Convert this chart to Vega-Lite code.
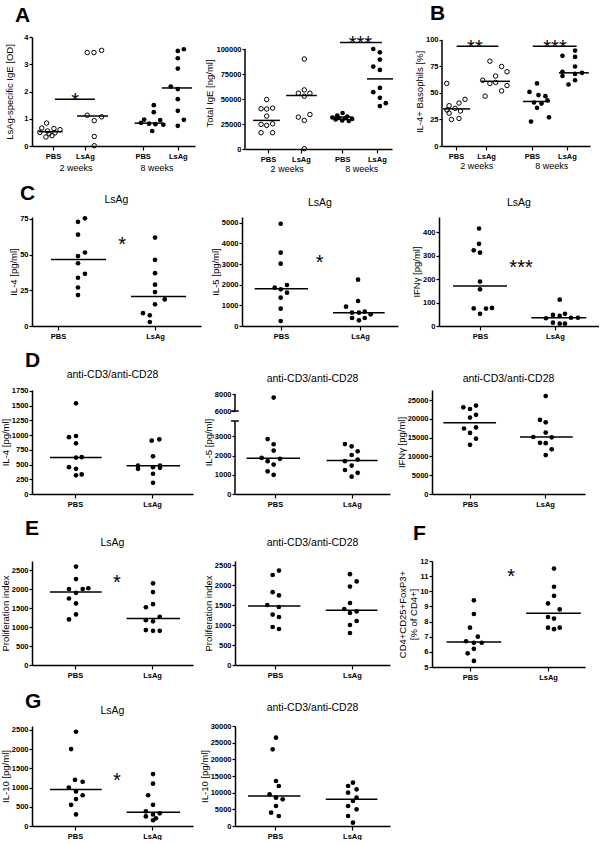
{
"$schema":"https://vega.github.io/schema/vega-lite/v6.json",
"padding":{"left":0,"top":2,"right":0,"bottom":0},
"columns":1,
"align":"none",
"spacing":9,
"config":{
 "font":"Liberation Sans",
 "numberFormat":"d",
 "view":{"stroke":null},
 "axis":{"grid":false,"domainColor":"#000","domainWidth":1.5,"tickColor":"#000","tickWidth":1.2,"tickSize":3,"labelColor":"#000","labelFontSize":7.5,"labelFontWeight":"bold","labelPadding":1,"labelFlush":false,"labelOverlap":false,"titleColor":"#000","titleFontSize":9.5,"titleFontWeight":"normal","titlePadding":1},
 "axisY":{"minExtent":0},
 "axisX":{"labelAngle":0,"tickSize":4,"labelPadding":2},
 "title":{"color":"#000","fontWeight":"normal","fontSize":10.5,"baseline":"alphabetic","frame":"group"},
 "text":{"color":"#000"}
},
"concat":[
{"hconcat":[
 {"width":163,"height":109,
  "title":{"text":"A","anchor":"start","fontSize":21,"fontWeight":"bold","offset":7,"dx":-17},
  "encoding":{
   "x":{"field":"x","type":"quantitative","scale":{"domain":[0.344,5.4375],"nice":false,"zero":false},"axis":{"values":[1,2,3.8,4.9],"labelExpr":"datum.value < 1.5 || (datum.value > 3 && datum.value < 4.3) ? 'PBS' : 'LsAg'","title":null}},
   "y":{"field":"v","type":"quantitative","scale":{"domain":[0,4],"nice":false},"axis":{"values":[0,1,2,3,4],"title":"LsAg-specific IgE [OD]","titlePadding":9}}},
  "layer":[
   {"data":{"values":[{"x":0.80,"v":0.84},{"x":0.65,"v":0.66},{"x":1.03,"v":0.64},{"x":1.22,"v":0.60},{"x":0.83,"v":0.55},{"x":0.59,"v":0.50},{"x":1.06,"v":0.48},{"x":0.875,"v":0.45},{"x":0.97,"v":0.38},{"x":0.78,"v":0.33},{"x":2.07,"v":3.43},{"x":2.28,"v":3.43},{"x":2.52,"v":3.51},{"x":2.07,"v":1.13},{"x":2.29,"v":0.93},{"x":2.52,"v":1.07},{"x":2.29,"v":0.35},{"x":2.29,"v":0.01}]},
    "mark":{"type":"point","shape":"circle","filled":false,"color":"#000","opacity":1,"size":20,"strokeWidth":1}},
   {"data":{"values":[{"x":4.15,"v":1.5},{"x":4.15,"v":1.24},{"x":3.85,"v":0.97},{"x":4.35,"v":0.95},{"x":3.75,"v":0.85},{"x":4.0,"v":0.82},{"x":4.2,"v":0.8},{"x":4.45,"v":0.78},{"x":4.1,"v":0.55},{"x":4.9,"v":3.49},{"x":5.09,"v":3.55},{"x":4.9,"v":3.22},{"x":4.9,"v":2.84},{"x":4.68,"v":2.18},{"x":4.9,"v":2.09},{"x":4.9,"v":1.72},{"x":4.9,"v":1.29},{"x":5.09,"v":0.96},{"x":4.9,"v":0.74}]},
    "mark":{"type":"point","shape":"circle","filled":true,"color":"#000","opacity":1,"size":22}},
   {"data":{"values":[{"x":0.55,"x2":1.3,"v":0.525},{"x":1.75,"x2":2.72,"v":1.1},{"x":3.55,"x2":4.45,"v":0.84},{"x":4.4,"x2":5.34,"v":2.13},{"x":1.06,"x2":2.31,"v":1.72}]},
    "mark":{"type":"rule","color":"#000","strokeWidth":1.5},"encoding":{"x2":{"field":"x2"}}},
   {"data":{"values":[{"x":1.69,"v":1.72,"t":"*"}]},
    "mark":{"type":"text","fontSize":20,"baseline":"alphabetic","dy":8},"encoding":{"text":{"field":"t"}}},
   {"data":{"values":[{"x":1.72,"v":0,"t":"2 weeks"},{"x":4.25,"v":0,"t":"8 weeks"}]},
    "mark":{"type":"text","fontSize":9,"baseline":"middle","dy":22},"encoding":{"text":{"field":"t"}}}
  ]},
 {"width":147,"height":112,
  "encoding":{
   "x":{"field":"x","type":"quantitative","scale":{"domain":[0.303,4.758],"nice":false,"zero":false},"axis":{"values":[1,2,3.25,4.3],"labelExpr":"datum.value < 1.5 || (datum.value > 3 && datum.value < 3.8) ? 'PBS' : 'LsAg'","title":null}},
   "y":{"field":"v","type":"quantitative","scale":{"domain":[0,112000],"nice":false},"axis":{"values":[0,25000,50000,75000,100000],"domain":false,"title":"Total IgE [ng/ml]"}}},
  "layer":[
   {"data":{"values":[{"x":0.303,"v":0,"v2":100000}]},
    "mark":{"type":"rule","color":"#000","strokeWidth":1.5},"encoding":{"y2":{"field":"v2"}}},
   {"data":{"values":[{"x":0.96,"v":49500},{"x":0.79,"v":40200},{"x":0.96,"v":40000},{"x":1.14,"v":40900},{"x":0.96,"v":32900},{"x":0.79,"v":24600},{"x":0.96,"v":23600},{"x":1.14,"v":25200},{"x":0.79,"v":16300},{"x":1.14,"v":16300},{"x":2.1,"v":90000},{"x":2.1,"v":59100},{"x":1.92,"v":55800},{"x":2.27,"v":55800},{"x":2.1,"v":52800},{"x":1.92,"v":31900},{"x":2.27,"v":34500},{"x":2.1,"v":28600},{"x":2.1,"v":300}]},
    "mark":{"type":"point","shape":"circle","filled":false,"color":"#000","opacity":1,"size":20,"strokeWidth":1}},
   {"data":{"values":[{"x":3.26,"v":36000},{"x":3.1,"v":33500},{"x":3.4,"v":32500},{"x":2.95,"v":31500},{"x":3.15,"v":31000},{"x":3.35,"v":30800},{"x":3.55,"v":30000},{"x":3.05,"v":29500},{"x":3.25,"v":28500},{"x":3.45,"v":28000},{"x":4.19,"v":100000},{"x":4.39,"v":96700},{"x":4.39,"v":89400},{"x":4.19,"v":82400},{"x":4.39,"v":79100},{"x":4.39,"v":61100},{"x":4.19,"v":56800},{"x":4.39,"v":51200},{"x":4.39,"v":42900},{"x":4.57,"v":45800}]},
    "mark":{"type":"point","shape":"circle","filled":true,"color":"#000","opacity":1,"size":22}},
   {"data":{"values":[{"x":0.55,"x2":1.36,"v":28600},{"x":1.55,"x2":2.48,"v":53500},{"x":2.93,"x2":3.58,"v":31900},{"x":4.0,"x2":4.79,"v":70100},{"x":3.18,"x2":4.45,"v":106600}]},
    "mark":{"type":"rule","color":"#000","strokeWidth":1.5},"encoding":{"x2":{"field":"x2"}}},
   {"data":{"values":[{"x":3.8,"v":106600,"t":"***"}]},
    "mark":{"type":"text","fontSize":20,"baseline":"alphabetic","dy":8},"encoding":{"text":{"field":"t"}}},
   {"data":{"values":[{"x":1.58,"v":0,"t":"2 weeks"},{"x":3.84,"v":0,"t":"8 weeks"}]},
    "mark":{"type":"text","fontSize":9,"baseline":"middle","dy":20},"encoding":{"text":{"field":"t"}}}
  ]},
 {"width":148,"height":109,
  "title":{"text":"B","anchor":"start","fontSize":21,"fontWeight":"bold","offset":12,"dx":-12},
  "encoding":{
   "x":{"field":"x","type":"quantitative","scale":{"domain":[0.533,5.467],"nice":false,"zero":false},"axis":{"values":[1,2,3.53,4.7],"labelExpr":"datum.value < 1.5 || (datum.value > 3 && datum.value < 4.2) ? 'PBS' : 'LsAg'","title":null}},
   "y":{"field":"v","type":"quantitative","scale":{"domain":[0,102.8],"nice":false},"axis":{"values":[0,25,50,75,100],"domain":false,"title":"IL-4+ Basophils [%]"}}},
  "layer":[
   {"data":{"values":[{"x":0.533,"v":0,"v2":100}]},
    "mark":{"type":"rule","color":"#000","strokeWidth":1.5},"encoding":{"y2":{"field":"v2"}}},
   {"data":{"values":[{"x":0.69,"v":59},{"x":1.3,"v":44},{"x":1.1,"v":40.5},{"x":0.77,"v":38},{"x":0.97,"v":35.5},{"x":0.7,"v":34},{"x":1.15,"v":33},{"x":0.77,"v":31},{"x":1.1,"v":26},{"x":0.85,"v":25},{"x":2.13,"v":80},{"x":2.52,"v":75},{"x":2.7,"v":70},{"x":2.32,"v":66},{"x":1.89,"v":62},{"x":2.32,"v":60},{"x":2.13,"v":59},{"x":2.7,"v":57},{"x":2.52,"v":52},{"x":1.97,"v":47}]},
    "mark":{"type":"point","shape":"circle","filled":false,"color":"#000","opacity":1,"size":20,"strokeWidth":1}},
   {"data":{"values":[{"x":3.7,"v":59},{"x":3.45,"v":51},{"x":3.75,"v":48},{"x":3.98,"v":47},{"x":4.05,"v":43},{"x":3.6,"v":41},{"x":3.85,"v":40},{"x":3.7,"v":36},{"x":4.1,"v":27},{"x":3.5,"v":23},{"x":4.97,"v":90},{"x":4.55,"v":85},{"x":4.97,"v":84},{"x":4.97,"v":75},{"x":4.55,"v":70},{"x":5.2,"v":69},{"x":4.97,"v":68},{"x":4.55,"v":66},{"x":4.97,"v":62},{"x":4.75,"v":58}]},
    "mark":{"type":"point","shape":"circle","filled":true,"color":"#000","opacity":1,"size":22}},
   {"data":{"values":[{"x":0.57,"x2":1.47,"v":35},{"x":1.83,"x2":2.8,"v":61},{"x":3.23,"x2":4.13,"v":42},{"x":4.43,"x2":5.43,"v":69},{"x":1.02,"x2":2.41,"v":94},{"x":3.56,"x2":5.02,"v":94}]},
    "mark":{"type":"rule","color":"#000","strokeWidth":1.5},"encoding":{"x2":{"field":"x2"}}},
   {"data":{"values":[{"x":1.63,"v":94,"t":"**"},{"x":4.3,"v":94,"t":"***"}]},
    "mark":{"type":"text","fontSize":20,"baseline":"alphabetic","dy":8},"encoding":{"text":{"field":"t"}}},
   {"data":{"values":[{"x":1.69,"v":0,"t":"2 weeks"},{"x":4.19,"v":0,"t":"8 weeks"}]},
    "mark":{"type":"text","fontSize":9,"baseline":"middle","dy":20},"encoding":{"text":{"field":"t"}}}
  ]}
 ],"spacing":50,"bounds":"flush"},

{"title":{"text":"C","anchor":"start","fontSize":21,"fontWeight":"bold","offset":0,"dx":-12,"dy":9},
 "hconcat":[
 {"width":169,"height":109,"title":{"text":"LsAg","offset":9},
  "encoding":{
   "x":{"field":"x","type":"quantitative","scale":{"domain":[0.732,2.474],"nice":false,"zero":false},"axis":{"values":[1,2],"labelExpr":"datum.value < 1.5 ? 'PBS' : 'LsAg'","title":null}},
   "y":{"field":"v","type":"quantitative","scale":{"domain":[0,76.4],"nice":false},"axis":{"values":[0,25,50,75],"title":"IL-4 [pg/ml]"}}},
  "layer":[
   {"data":{"values":[{"x":1.206,"v":73},{"x":1.278,"v":75.5},{"x":1.206,"v":64},{"x":1.278,"v":51.5},{"x":1.206,"v":49},{"x":1.206,"v":44},{"x":1.278,"v":36.6},{"x":1.206,"v":33.8},{"x":1.206,"v":27},{"x":1.206,"v":21.7},{"x":2.0,"v":62},{"x":2.0,"v":46.4},{"x":2.0,"v":37},{"x":2.0,"v":29},{"x":2.0,"v":23.8},{"x":2.1,"v":18.6},{"x":2.0,"v":15.2},{"x":1.876,"v":9},{"x":1.946,"v":7.5},{"x":1.946,"v":2.8}]},
    "mark":{"type":"point","shape":"circle","filled":true,"color":"#000","opacity":1,"size":22}},
   {"data":{"values":[{"x":0.928,"x2":1.495,"v":46.6},{"x":1.753,"x2":2.32,"v":20.7}]},
    "mark":{"type":"rule","color":"#000","strokeWidth":1.5},"encoding":{"x2":{"field":"x2"}}},
   {"data":{"values":[{"x":1.66,"v":60,"t":"*"}]},
    "mark":{"type":"text","fontSize":20,"baseline":"alphabetic","dy":11},"encoding":{"text":{"field":"t"}}}
  ]},
 {"width":156,"height":109,"title":{"text":"LsAg","offset":9},
  "encoding":{
   "x":{"field":"x","type":"quantitative","scale":{"domain":[0.506,2.481],"nice":false,"zero":false},"axis":{"values":[1,2],"labelExpr":"datum.value < 1.5 ? 'PBS' : 'LsAg'","title":null}},
   "y":{"field":"v","type":"quantitative","scale":{"domain":[0,5276],"nice":false},"axis":{"values":[0,1000,2000,3000,4000,5000],"title":"IL-5 [pg/ml]"}}},
  "layer":[
   {"data":{"values":[{"x":0.996,"v":4950},{"x":0.996,"v":3548},{"x":0.996,"v":3016},{"x":1.076,"v":1984},{"x":0.92,"v":1855},{"x":0.996,"v":1774},{"x":1.076,"v":1613},{"x":0.996,"v":1371},{"x":0.996,"v":839},{"x":0.996,"v":242},{"x":1.975,"v":2242},{"x":1.975,"v":1210},{"x":1.823,"v":935},{"x":1.899,"v":645},{"x":1.987,"v":645},{"x":2.06,"v":694},{"x":2.135,"v":565},{"x":1.899,"v":387},{"x":2.06,"v":387},{"x":1.987,"v":274}]},
    "mark":{"type":"point","shape":"circle","filled":true,"color":"#000","opacity":1,"size":22}},
   {"data":{"values":[{"x":0.667,"x2":1.342,"v":1806},{"x":1.658,"x2":2.312,"v":645}]},
    "mark":{"type":"rule","color":"#000","strokeWidth":1.5},"encoding":{"x2":{"field":"x2"}}},
   {"data":{"values":[{"x":1.49,"v":3290,"t":"*"}]},
    "mark":{"type":"text","fontSize":20,"baseline":"alphabetic","dy":11},"encoding":{"text":{"field":"t"}}}
  ]},
 {"width":160,"height":109,"title":{"text":"LsAg","offset":9},
  "encoding":{
   "x":{"field":"x","type":"quantitative","scale":{"domain":[0.453,2.587],"nice":false,"zero":false},"axis":{"values":[1,2],"labelExpr":"datum.value < 1.5 ? 'PBS' : 'LsAg'","title":null}},
   "y":{"field":"v","type":"quantitative","scale":{"domain":[0,464],"nice":false},"axis":{"values":[0,100,200,300,400],"title":"IFNγ [pg/ml]"}}},
  "layer":[
   {"data":{"values":[{"x":0.987,"v":415},{"x":0.987,"v":350},{"x":0.916,"v":322},{"x":1.0,"v":312},{"x":1.0,"v":189},{"x":1.0,"v":156},{"x":0.916,"v":75},{"x":1.08,"v":74},{"x":1.16,"v":77},{"x":1.0,"v":52},{"x":2.063,"v":112},{"x":1.973,"v":47},{"x":2.063,"v":43},{"x":2.133,"v":52},{"x":1.88,"v":33},{"x":2.213,"v":35},{"x":2.307,"v":35},{"x":1.973,"v":14},{"x":2.063,"v":10},{"x":2.133,"v":10}]},
    "mark":{"type":"point","shape":"circle","filled":true,"color":"#000","opacity":1,"size":22}},
   {"data":{"values":[{"x":0.64,"x2":1.36,"v":170},{"x":1.684,"x2":2.417,"v":35}]},
    "mark":{"type":"rule","color":"#000","strokeWidth":1.5},"encoding":{"x2":{"field":"x2"}}},
   {"data":{"values":[{"x":1.547,"v":268,"t":"***"}]},
    "mark":{"type":"text","fontSize":20,"baseline":"alphabetic","dy":11},"encoding":{"text":{"field":"t"}}}
  ]}
 ],"spacing":41,"bounds":"flush"},

{"title":{"text":"D","anchor":"start","fontSize":21,"fontWeight":"bold","offset":0,"dx":-7,"dy":0.4},
 "hconcat":[
 {"width":161,"height":104,"title":{"text":"anti-CD3/anti-CD28","offset":6},
  "encoding":{
   "x":{"field":"x","type":"quantitative","scale":{"domain":[0.442,2.532],"nice":false,"zero":false},"axis":{"values":[1,2],"labelExpr":"datum.value < 1.5 ? 'PBS' : 'LsAg'","title":null}},
   "y":{"field":"v","type":"quantitative","scale":{"domain":[0,1766],"nice":false},"axis":{"values":[0,250,500,750,1000,1250,1500,1750],"title":"IL-4 [pg/ml]"}}},
  "layer":[
   {"data":{"values":[{"x":1.013,"v":1540},{"x":0.922,"v":965},{"x":1.013,"v":985},{"x":1.013,"v":860},{"x":1.013,"v":618},{"x":1.087,"v":625},{"x":0.922,"v":456},{"x":1.013,"v":428},{"x":1.013,"v":317},{"x":1.087,"v":333},{"x":1.996,"v":905},{"x":2.095,"v":928},{"x":2.013,"v":639},{"x":1.818,"v":483},{"x":1.818,"v":428},{"x":2.013,"v":456},{"x":2.104,"v":483},{"x":2.104,"v":444},{"x":2.013,"v":344},{"x":2.013,"v":189}]},
    "mark":{"type":"point","shape":"circle","filled":true,"color":"#000","opacity":1,"size":22}},
   {"data":{"values":[{"x":0.675,"x2":1.347,"v":620},{"x":1.67,"x2":2.364,"v":478}]},
    "mark":{"type":"rule","color":"#000","strokeWidth":1.5},"encoding":{"x2":{"field":"x2"}}}
  ]},
 {"width":155,"height":104,"title":{"text":"anti-CD3/anti-CD28","offset":6},
  "encoding":{
   "x":{"field":"x","type":"quantitative","scale":{"domain":[0.481,2.494],"nice":false,"zero":false},"axis":{"values":[1,2],"labelExpr":"datum.value < 1.5 ? 'PBS' : 'LsAg'","title":null}},
   "y":{"field":"v","type":"quantitative","scale":{"domain":[0,3800,6000,8500],"range":[104,31,21,0],"nice":false,"zero":false},"axis":{"values":[0,1000,2000,3000,6000,8000],"domain":false,"title":"IL-5 [pg/ml]"}}},
  "layer":[
   {"data":{"values":[{"x":0.481,"v":0,"v2":3800},{"x":0.481,"v":6000,"v2":8000}]},
    "mark":{"type":"rule","color":"#000","strokeWidth":1.5},"encoding":{"y2":{"field":"v2"}}},
   {"data":{"values":[{"x":0.983,"v":7600},{"x":0.905,"v":2860},{"x":0.983,"v":2590},{"x":0.983,"v":2260},{"x":0.827,"v":1880},{"x":0.905,"v":1710},{"x":1.065,"v":1830},{"x":0.983,"v":1530},{"x":0.905,"v":1180},{"x":0.983,"v":1000},{"x":1.909,"v":2600},{"x":1.996,"v":2480},{"x":2.074,"v":2220},{"x":1.996,"v":2030},{"x":2.074,"v":1790},{"x":1.909,"v":1710},{"x":1.996,"v":1480},{"x":1.909,"v":1250},{"x":2.074,"v":1100},{"x":1.996,"v":900}]},
    "mark":{"type":"point","shape":"circle","filled":true,"color":"#000","opacity":1,"size":22}},
   {"data":{"values":[{"x":0.632,"x2":1.325,"v":1855},{"x":1.671,"x2":2.333,"v":1750},{"x":0.43,"x2":0.53,"v":3800},{"x":0.43,"x2":0.53,"v":6000}]},
    "mark":{"type":"rule","color":"#000","strokeWidth":1.5},"encoding":{"x2":{"field":"x2"}}}
  ]},
 {"width":153,"height":104,"title":{"text":"anti-CD3/anti-CD28","offset":6},
  "encoding":{
   "x":{"field":"x","type":"quantitative","scale":{"domain":[0.493,2.533],"nice":false,"zero":false},"axis":{"values":[1,2],"labelExpr":"datum.value < 1.5 ? 'PBS' : 'LsAg'","title":null}},
   "y":{"field":"v","type":"quantitative","scale":{"domain":[0,27700],"nice":false},"axis":{"values":[0,5000,10000,15000,20000,25000],"title":"IFNγ [pg/ml]"}}},
  "layer":[
   {"data":{"values":[{"x":0.911,"v":23090},{"x":1.0,"v":22640},{"x":1.08,"v":23550},{"x":1.0,"v":20360},{"x":1.08,"v":21090},{"x":0.92,"v":17450},{"x":1.08,"v":17730},{"x":1.0,"v":16270},{"x":1.08,"v":14730},{"x":1.0,"v":13090},{"x":2.009,"v":26090},{"x":1.933,"v":19730},{"x":2.009,"v":19090},{"x":2.009,"v":16360},{"x":1.844,"v":15180},{"x":2.089,"v":15090},{"x":1.933,"v":13640},{"x":2.009,"v":13550},{"x":2.089,"v":11910},{"x":2.009,"v":10360}]},
    "mark":{"type":"point","shape":"circle","filled":true,"color":"#000","opacity":1,"size":22}},
   {"data":{"values":[{"x":0.644,"x2":1.347,"v":19000},{"x":1.667,"x2":2.369,"v":15180}]},
    "mark":{"type":"rule","color":"#000","strokeWidth":1.5},"encoding":{"x2":{"field":"x2"}}}
  ]}
 ],"spacing":42,"bounds":"flush"},

{"title":{"text":"E","anchor":"start","fontSize":21,"fontWeight":"bold","offset":0,"dx":-7,"dy":15.8},
 "hconcat":[
 {"width":161,"height":104,"title":{"text":"LsAg","offset":13},
  "encoding":{
   "x":{"field":"x","type":"quantitative","scale":{"domain":[0.442,2.532],"nice":false,"zero":false},"axis":{"values":[1,2],"labelExpr":"datum.value < 1.5 ? 'PBS' : 'LsAg'","title":null}},
   "y":{"field":"v","type":"quantitative","scale":{"domain":[0,2737],"nice":false},"axis":{"values":[0,500,1000,1500,2000,2500],"title":"Proliferation index"}}},
  "layer":[
   {"data":{"values":[{"x":1.013,"v":2590},{"x":1.013,"v":2260},{"x":0.922,"v":2000},{"x":1.1,"v":2000},{"x":1.173,"v":2020},{"x":1.013,"v":1900},{"x":0.922,"v":1750},{"x":1.013,"v":1620},{"x":1.013,"v":1330},{"x":0.922,"v":1200},{"x":2.013,"v":2150},{"x":2.013,"v":1920},{"x":2.013,"v":1600},{"x":1.92,"v":1520},{"x":2.1,"v":1270},{"x":1.92,"v":1180},{"x":2.013,"v":1150},{"x":1.92,"v":920},{"x":2.013,"v":900},{"x":2.1,"v":900}]},
    "mark":{"type":"point","shape":"circle","filled":true,"color":"#000","opacity":1,"size":22}},
   {"data":{"values":[{"x":0.675,"x2":1.347,"v":1920},{"x":1.67,"x2":2.364,"v":1225}]},
    "mark":{"type":"rule","color":"#000","strokeWidth":1.5},"encoding":{"x2":{"field":"x2"}}},
   {"data":{"values":[{"x":1.545,"v":2290,"t":"*"}]},
    "mark":{"type":"text","fontSize":20,"baseline":"alphabetic","dy":11},"encoding":{"text":{"field":"t"}}}
  ]},
 {"width":155,"height":104,"title":{"text":"anti-CD3/anti-CD28","offset":13},
  "encoding":{
   "x":{"field":"x","type":"quantitative","scale":{"domain":[0.481,2.494],"nice":false,"zero":false},"axis":{"values":[1,2],"labelExpr":"datum.value < 1.5 ? 'PBS' : 'LsAg'","title":null}},
   "y":{"field":"v","type":"quantitative","scale":{"domain":[0,2600],"nice":false},"axis":{"values":[0,500,1000,1500,2000,2500],"title":"Proliferation index"}}},
  "layer":[
   {"data":{"values":[{"x":1.052,"v":2360},{"x":0.97,"v":2250},{"x":0.97,"v":1820},{"x":1.052,"v":1740},{"x":0.9,"v":1500},{"x":1.05,"v":1450},{"x":0.97,"v":1260},{"x":1.052,"v":1200},{"x":0.97,"v":950},{"x":1.052,"v":900},{"x":1.974,"v":2270},{"x":2.061,"v":2090},{"x":1.974,"v":1960},{"x":1.974,"v":1550},{"x":1.9,"v":1400},{"x":2.061,"v":1340},{"x":1.974,"v":1300},{"x":2.061,"v":1100},{"x":1.974,"v":1000},{"x":1.974,"v":800}]},
    "mark":{"type":"point","shape":"circle","filled":true,"color":"#000","opacity":1,"size":22}},
   {"data":{"values":[{"x":0.65,"x2":1.33,"v":1475},{"x":1.66,"x2":2.33,"v":1370}]},
    "mark":{"type":"rule","color":"#000","strokeWidth":1.5},"encoding":{"x2":{"field":"x2"}}}
  ]},
 {"width":153,"height":106,
  "title":{"text":"F","anchor":"start","fontSize":21,"fontWeight":"bold","offset":13,"dx":-19},
  "encoding":{
   "x":{"field":"x","type":"quantitative","scale":{"domain":[0.513,2.474],"nice":false,"zero":false},"axis":{"values":[1,2],"labelExpr":"datum.value < 1.5 ? 'PBS' : 'LsAg'","title":null}},
   "y":{"field":"v","type":"quantitative","scale":{"domain":[5,12],"nice":false,"zero":false},"axis":{"values":[5,6,7,8,9,10,11,12],"title":["CD4+CD25+FoxP3+","[% of CD4+]"]}}},
  "layer":[
   {"data":{"values":[{"x":1.05,"v":9.4},{"x":1.05,"v":8.5},{"x":1.0,"v":7.6},{"x":1.1,"v":7.0},{"x":0.95,"v":6.7},{"x":1.05,"v":6.6},{"x":1.15,"v":6.6},{"x":1.05,"v":6.2},{"x":0.97,"v":5.9},{"x":1.05,"v":5.4},{"x":2.077,"v":11.5},{"x":2.077,"v":10.3},{"x":2.077,"v":9.7},{"x":2.0,"v":9.2},{"x":2.15,"v":8.8},{"x":2.0,"v":8.3},{"x":2.077,"v":8.2},{"x":2.0,"v":7.6},{"x":2.15,"v":7.6},{"x":2.077,"v":7.5}]},
    "mark":{"type":"point","shape":"circle","filled":true,"color":"#000","opacity":1,"size":22}},
   {"data":{"values":[{"x":0.7,"x2":1.4,"v":6.65},{"x":1.72,"x2":2.42,"v":8.55}]},
    "mark":{"type":"rule","color":"#000","strokeWidth":1.5},"encoding":{"x2":{"field":"x2"}}},
   {"data":{"values":[{"x":1.526,"v":11.25,"t":"*"}]},
    "mark":{"type":"text","fontSize":20,"baseline":"alphabetic","dy":11},"encoding":{"text":{"field":"t"}}}
  ]}
 ],"spacing":42,"bounds":"flush"},

{"title":{"text":"G","anchor":"start","fontSize":21,"fontWeight":"bold","offset":0,"dx":-7,"dy":9},
 "hconcat":[
 {"width":161,"height":100,"title":{"text":"LsAg","offset":9},
  "encoding":{
   "x":{"field":"x","type":"quantitative","scale":{"domain":[0.442,2.532],"nice":false,"zero":false},"axis":{"values":[1,2],"labelExpr":"datum.value < 1.5 ? 'PBS' : 'LsAg'","title":null}},
   "y":{"field":"v","type":"quantitative","scale":{"domain":[0,2600],"nice":false},"axis":{"values":[0,500,1000,1500,2000,2500],"title":"IL-10 [pg/ml]"}}},
  "layer":[
   {"data":{"values":[{"x":1.013,"v":2450},{"x":0.95,"v":2000},{"x":1.0,"v":1200},{"x":1.1,"v":1150},{"x":0.92,"v":1000},{"x":1.013,"v":900},{"x":1.1,"v":800},{"x":1.013,"v":700},{"x":0.95,"v":550},{"x":1.013,"v":300},{"x":2.013,"v":1350},{"x":2.013,"v":1100},{"x":1.95,"v":800},{"x":2.013,"v":550},{"x":1.92,"v":380},{"x":2.1,"v":330},{"x":2.013,"v":300},{"x":1.92,"v":250},{"x":2.05,"v":200},{"x":2.013,"v":150}]},
    "mark":{"type":"point","shape":"circle","filled":true,"color":"#000","opacity":1,"size":22}},
   {"data":{"values":[{"x":0.675,"x2":1.347,"v":950},{"x":1.67,"x2":2.364,"v":355}]},
    "mark":{"type":"rule","color":"#000","strokeWidth":1.5},"encoding":{"x2":{"field":"x2"}}},
   {"data":{"values":[{"x":1.545,"v":1300,"t":"*"}]},
    "mark":{"type":"text","fontSize":20,"baseline":"alphabetic","dy":11},"encoding":{"text":{"field":"t"}}}
  ]},
 {"width":155,"height":100,"title":{"text":"anti-CD3/anti-CD28","offset":9},
  "encoding":{
   "x":{"field":"x","type":"quantitative","scale":{"domain":[0.481,2.494],"nice":false,"zero":false},"axis":{"values":[1,2],"labelExpr":"datum.value < 1.5 ? 'PBS' : 'LsAg'","title":null}},
   "y":{"field":"v","type":"quantitative","scale":{"domain":[0,30000],"nice":false},"axis":{"values":[0,5000,10000,15000,20000,25000,30000],"title":"IL-10 [pg/ml]"}}},
  "layer":[
   {"data":{"values":[{"x":1.013,"v":26500},{"x":0.97,"v":23000},{"x":1.013,"v":13500},{"x":1.05,"v":12000},{"x":0.93,"v":9500},{"x":1.013,"v":8500},{"x":1.1,"v":8000},{"x":1.013,"v":6000},{"x":0.95,"v":4000},{"x":1.05,"v":3000},{"x":2.013,"v":13000},{"x":1.95,"v":12000},{"x":2.06,"v":11000},{"x":1.95,"v":10000},{"x":2.06,"v":8500},{"x":2.013,"v":7500},{"x":1.95,"v":6000},{"x":2.06,"v":5000},{"x":1.95,"v":3000},{"x":2.013,"v":1000}]},
    "mark":{"type":"point","shape":"circle","filled":true,"color":"#000","opacity":1,"size":22}},
   {"data":{"values":[{"x":0.65,"x2":1.33,"v":9000},{"x":1.66,"x2":2.33,"v":8000}]},
    "mark":{"type":"rule","color":"#000","strokeWidth":1.5},"encoding":{"x2":{"field":"x2"}}}
  ]}
 ],"spacing":42,"bounds":"flush"}
]
}
